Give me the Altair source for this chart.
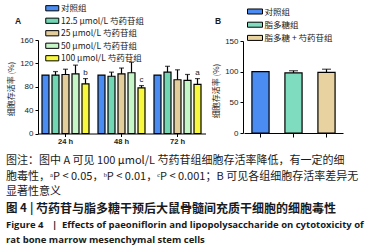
import altair as alt
import pandas as pd

# ---------------- data ----------------
times = ["24 h", "48 h", "72 h"]
groups_a = ["对照组", "12.5 μmol/L 芍药苷组", "25 μmol/L 芍药苷组", "50 μmol/L 芍药苷组", "100 μmol/L 芍药苷组"]
colors_a = ["#4a8cf2", "#72d6b5", "#e3cd9b", "#c6f5c8", "#f8f83e"]
vals_24 = [100, 100, 101, 102, 85]
vals_48 = [100, 98, 102, 104, 78]
vals_72 = [100, 105, 92, 91, 84]
errs_24 = [0, 6, 9, 15, 9]
errs_48 = [0, 7, 10, 18, 4]
errs_72 = [0, 10, 17, 10, 10]
sig_marks = ["b", "c", "a"]

groups_b = ["对照组", "脂多糖组", "脂多糖 + 芍药苷组"]
colors_b = ["#4a8cf2", "#7fdcbf", "#e8d3a0"]
vals_b = [100, 98, 99]
errs_b = [0, 3.5, 5]

ticks_a = [0, 40, 80, 120, 160]
ticks_b = [0, 50, 100, 150]

y_title = "细胞存活率 (%)"
cap1 = "图注：图中 A 可见 100 μmol/L 芍药苷组细胞存活率降低，有一定的细"
cap2 = "胞毒性，ᵃP < 0.05，ᵇP < 0.01，ᶜP < 0.001；B 可见各组细胞存活率差异无"
cap3 = "显著性意义"
cap4a = "图 4"
cap4b = "|"
cap4c = "芍药苷与脂多糖干预后大鼠骨髓间充质干细胞的细胞毒性"
cap5a = "Figure 4"
cap5b = "|"
cap5c = "Effects of paeoniflorin and lipopolysaccharide on cytotoxicity of"
cap6 = "rat bone marrow mesenchymal stem cells"

# ---------------- tables ----------------
rows = []
for t, vals, errs, s in zip(times, [vals_24, vals_48, vals_72], [errs_24, errs_48, errs_72], sig_marks):
    for i, (g, v, e) in enumerate(zip(groups_a, vals, errs)):
        rows.append({"time": t, "group": g, "value": v, "err": e, "top": v + e,
                     "sig": s if i == len(groups_a) - 1 else ""})
df_a = pd.DataFrame(rows)
df_b = pd.DataFrame({"group": groups_b, "value": vals_b, "err": errs_b,
                     "top": [v + e for v, e in zip(vals_b, errs_b)]})

AX_FONT = "Liberation Sans"
CJK = "Noto Sans CJK SC"
LAT = "Open Sans"
INK = "#1a1a1a"

# ---------------- panel A ----------------
axis_xa = alt.Axis(title=None, orient="bottom", offset=-118.5, domainColor="black", domainWidth=1,
                   tickColor="black", tickSize=3, labelFontSize=7.5, labelFontWeight="bold",
                   labelFont=AX_FONT, labelColor=INK, labelPadding=1, labelAngle=0, grid=False)
xa = alt.X("time:N", sort=times,
           scale=alt.Scale(domain=times, range=[37.5, 205.5], paddingInner=0, paddingOuter=0),
           axis=axis_xa)
xoa = alt.XOffset("group:N", sort=groups_a,
                  scale=alt.Scale(domain=groups_a, paddingInner=0.3, paddingOuter=0.45))
axis_ya = alt.Axis(title=None, orient="left", offset=-38, values=ticks_a, domainColor="black",
                   domainWidth=1, tickColor="black", tickSize=3, labelFontSize=8, labelFont=AX_FONT,
                   labelColor=INK, labelPadding=2, grid=False)
scale_ya = alt.Scale(domain=[0, 160], range=[133.5, 40], nice=False)

bars_a = alt.Chart(df_a).mark_bar(stroke="black", strokeWidth=1.2).encode(
    x=xa, xOffset=xoa,
    y=alt.Y("value:Q", scale=scale_ya, axis=axis_ya),
    color=alt.Color("group:N", sort=groups_a, scale=alt.Scale(domain=groups_a, range=colors_a),
                    legend=alt.Legend(orient="none", legendX=48, legendY=4, title=None,
                                      symbolType="M-2,-0.8H2V0.8H-2Z", symbolSize=42.25,
                                      symbolStrokeColor="black", symbolStrokeWidth=1,
                                      symbolOpacity=1, labelFont=CJK, labelFontSize=8.5,
                                      labelColor=INK, labelOffset=4.5, rowPadding=2.5, padding=0,
                                      labelLimit=300)),
)
err_a = alt.Chart(df_a).transform_filter("datum.err > 0").mark_rule(color="black", strokeWidth=1.2).encode(
    x=xa, xOffset=xoa, y=alt.Y("value:Q", scale=scale_ya, axis=axis_ya), y2="top:Q")
cap_a = alt.Chart(df_a).transform_filter("datum.err > 0").mark_tick(color="black", thickness=1.2, size=5).encode(
    x=xa, xOffset=xoa, y=alt.Y("top:Q", scale=scale_ya, axis=axis_ya))
sig_a = alt.Chart(df_a).transform_filter("datum.sig != ''").mark_text(
    dy=-6, fontSize=8, font=AX_FONT, color=INK).encode(
    x=xa, xOffset=xoa, y=alt.Y("top:Q", scale=scale_ya, axis=axis_ya), text="sig:N")
panel_a = alt.layer(bars_a, err_a, cap_a, sig_a)

# ---------------- panel B ----------------
axis_xb = alt.Axis(title=None, orient="bottom", offset=-119, domainColor="black", domainWidth=1,
                   tickColor="black", tickSize=4, labels=False, grid=False)
xb = alt.X("group:N", sort=groups_b,
           scale=alt.Scale(domain=groups_b, range=[244, 343], paddingInner=0.48, paddingOuter=0.24),
           axis=axis_xb)
axis_yb = alt.Axis(title=None, orient="left", offset=-243, values=ticks_b, domainColor="black",
                   domainWidth=1, tickColor="black", tickSize=3, labelFontSize=8, labelFont=AX_FONT,
                   labelColor=INK, labelPadding=2, grid=False)
scale_yb = alt.Scale(domain=[0, 150], range=[133, 41], nice=False)

bars_b = alt.Chart(df_b).mark_bar(stroke="black", strokeWidth=1.2).encode(
    x=xb,
    y=alt.Y("value:Q", scale=scale_yb, axis=axis_yb),
    color=alt.Color("group:N", sort=groups_b, scale=alt.Scale(domain=groups_b, range=colors_b),
                    legend=alt.Legend(orient="none", legendX=250.5, legendY=7, title=None,
                                      symbolType="M-2,-0.67H2V0.67H-2Z", symbolSize=56.25,
                                      symbolStrokeColor="black", symbolStrokeWidth=1,
                                      symbolOpacity=1, labelFont=CJK, labelFontSize=8.5,
                                      labelColor=INK, labelOffset=5, rowPadding=2.2, padding=0,
                                      labelLimit=300)),
)
err_b = alt.Chart(df_b).transform_filter("datum.err > 0").mark_rule(color="black", strokeWidth=1.2).encode(
    x=xb, y=alt.Y("value:Q", scale=scale_yb, axis=axis_yb), y2="top:Q")
cap_b = alt.Chart(df_b).transform_filter("datum.err > 0").mark_tick(color="black", thickness=1.2, size=9).encode(
    x=xb, y=alt.Y("top:Q", scale=scale_yb, axis=axis_yb))
panel_b = alt.layer(bars_b, err_b, cap_b)


# ---------------- text annotations ----------------
def label(txt, x, y, size, font=CJK, weight="normal", align="left", angle=0, color=INK):
    kw = dict(align=align, baseline="middle", fontSize=size, font=font, fontWeight=weight, color=color)
    if angle:
        kw["angle"] = angle
    return alt.Chart(pd.DataFrame({"t": [txt]})).mark_text(**kw).encode(
        text="t:N", x=alt.value(x), y=alt.value(y))


texts = [
    label("A", 18, 21, 8.5, font=AX_FONT, weight="bold", align="center"),
    label("B", 218, 21, 8.5, font=AX_FONT, weight="bold", align="center"),
    label(y_title, 12, 89, 8, align="center", angle=270),
    label(y_title, 217, 91, 8, align="center", angle=270),
    label(cap1, 6, 160.7, 11),
    label(cap2, 6, 176.7, 11),
    label(cap3, 6, 191.7, 11),
    label(cap4a, 6, 209, 11.5, weight="bold"),
    label(cap4b, 30, 209, 11.5, weight="bold"),
    label(cap4c, 36, 209, 12, weight="bold"),
    label(cap5a, 6, 225, 9.5, font=LAT, weight="bold"),
    label(cap5b, 52, 225, 9.5, font=LAT, weight="bold"),
    label(cap5c, 62, 225, 9.5, font=LAT, weight="bold"),
    label(cap6, 6, 240, 9.5, font=LAT, weight="bold"),
]

chart = alt.layer(panel_a, panel_b, *texts).resolve_scale(
    x="independent", y="independent", color="independent", xOffset="independent"
).resolve_axis(x="independent", y="independent").resolve_legend(color="independent").properties(
    width=377, height=252, padding=0, autosize=alt.AutoSizeParams(type="none"), background="white"
).configure_view(stroke=None)

chart.save("out.html", embed_options={"renderer": "svg", "actions": False})
